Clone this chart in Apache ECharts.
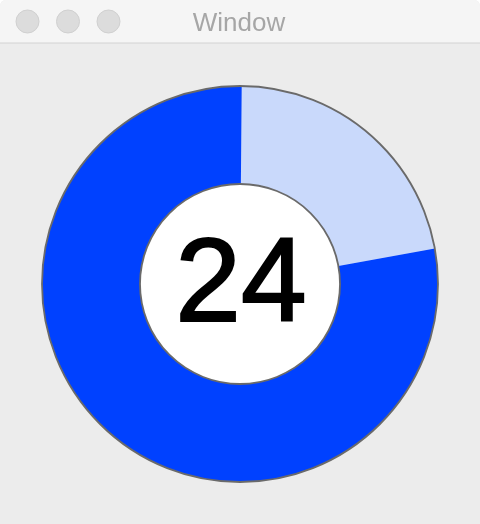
<!DOCTYPE html>
<html>
<head>
<meta charset="utf-8">
<script src="https://cdn.jsdelivr.net/npm/echarts@6/dist/echarts.min.js"></script>
<style>
  html, body { margin: 0; padding: 0; background: #ffffff; }
  #chart { width: 480px; height: 524px; }
</style>
</head>
<body>
<div id="chart"></div>
<script>
// data
const sliceNames = ['remaining', 'done'];
const sliceValues = [22, 78];
const sliceColors = ['#c9d9fb', '#0041ff'];
const centerLabel = '24';
const windowTitle = 'Window';

const chart = echarts.init(document.getElementById('chart'), null, { renderer: 'canvas' });

const cx = 240, cy = 284;
const outerR = 198, innerR = 100;

const option = {
  animation: false,
  backgroundColor: '#ffffff',
  graphic: [
    // window chrome
    { type: 'rect', z: 0, shape: { x: 0, y: 0, width: 480, height: 524, r: [6, 6, 0, 0] },
      style: { fill: '#ececec' } },
    { type: 'rect', z: 1, shape: { x: 0, y: 0, width: 480, height: 43, r: [6, 6, 0, 0] },
      style: { fill: '#f5f5f5' } },
    { type: 'line', z: 2, shape: { x1: 0, y1: 43, x2: 480, y2: 43 },
      style: { stroke: '#d2d2d2', lineWidth: 1 } },
    { type: 'circle', z: 2, shape: { cx: 27.5, cy: 21.5, r: 11.5 },
      style: { fill: '#dcdcdc', stroke: '#d0d0d0', lineWidth: 1 } },
    { type: 'circle', z: 2, shape: { cx: 68, cy: 21.5, r: 11.5 },
      style: { fill: '#dcdcdc', stroke: '#d0d0d0', lineWidth: 1 } },
    { type: 'circle', z: 2, shape: { cx: 108.5, cy: 21.5, r: 11.5 },
      style: { fill: '#dcdcdc', stroke: '#d0d0d0', lineWidth: 1 } },
    { type: 'text', z: 2, x: 239, y: 23.5,
      style: { text: windowTitle, fill: '#a6a6a6', font: '26px "Liberation Sans", Arial, sans-serif',
               textAlign: 'center', textVerticalAlign: 'middle' } },
    // donut outline and centre disc
    { type: 'circle', z: 100, silent: true, shape: { cx: cx, cy: cy, r: outerR },
      style: { fill: 'none', stroke: '#6a6a6a', lineWidth: 1.8 } },
    { type: 'circle', z: 100, silent: true, shape: { cx: cx, cy: cy, r: innerR },
      style: { fill: '#ffffff', stroke: '#6a6a6a', lineWidth: 1.8 } },
    { type: 'text', z: 101, x: 241, y: 288,
      style: { text: centerLabel, fill: '#000000', stroke: '#000000', lineWidth: 2,
               font: '118px "Liberation Sans", Arial, sans-serif',
               textAlign: 'center', textVerticalAlign: 'middle' } }
  ],
  series: [{
    type: 'pie',
    z: 50,
    center: [cx, cy],
    radius: [innerR, outerR],
    startAngle: 89.5,
    clockwise: true,
    silent: true,
    label: { show: false },
    labelLine: { show: false },
    itemStyle: { borderWidth: 0 },
    emphasis: { disabled: true },
    data: sliceNames.map((n, i) => ({ name: n, value: sliceValues[i], itemStyle: { color: sliceColors[i] } }))
  }]
};

chart.setOption(option);
</script>
</body>
</html>
